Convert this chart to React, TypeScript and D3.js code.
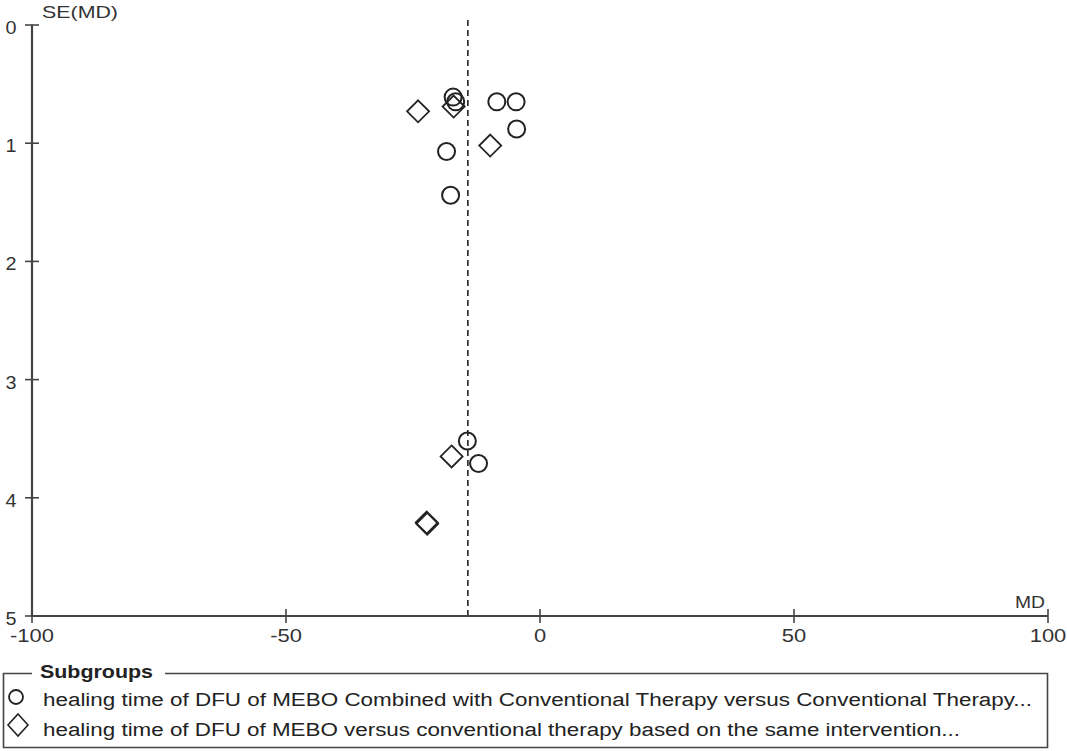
import React from "react";
import * as d3 from "d3";

const circleMD = [-17.1, -16.6, -8.5, -4.7, -4.6, -18.4, -17.6, -14.3, -12.1];
const circleSE = [0.61, 0.65, 0.65, 0.65, 0.88, 1.07, 1.44, 3.52, 3.71];
const diamondMD = [-24.0, -17.0, -9.8, -17.4, -22.3, -22.2];
const diamondSE = [0.73, 0.69, 1.02, 3.65, 4.21, 4.22];
const pooledMD = -14.2;
const xTicks = [-100, -50, 0, 50, 100];
const yTicks = [0, 1, 2, 3, 4, 5];
const yTitle = "SE(MD)";
const xTitle = "MD";
const legendTitle = "Subgroups";
const legendLabels = [
  "healing time of DFU of MEBO Combined with Conventional Therapy versus Conventional Therapy...",
  "healing time of DFU of MEBO versus conventional therapy based on the same intervention...",
];

const font = "Liberation Sans, Arial, sans-serif";

function SText(props: {
  x: number; y: number; sx?: number; size?: number; anchor?: string; bold?: boolean;
  fill?: string; len?: number; children: React.ReactNode;
}) {
  const { x, y, sx = 1.2, size = 18, anchor = "start", bold = false, fill = "#333", len, children } = props;
  if (len) {
    return (
      <text x={x} y={y} fontFamily={font} fontSize={size} fontWeight={bold ? "bold" : "normal"}
        fill={fill} textAnchor={anchor} textLength={len} lengthAdjust="spacingAndGlyphs">{children}</text>
    );
  }
  return (
    <text transform={`translate(${x},${y}) scale(${sx},1)`} fontFamily={font} fontSize={size}
      fontWeight={bold ? "bold" : "normal"} fill={fill} textAnchor={anchor}>{children}</text>
  );
}

export default function App() {
  const W = 1067, H = 751;
  const x = d3.scaleLinear().domain([-100, 100]).range([32, 1048]);
  const y = d3.scaleLinear().domain([0, 5]).range([25, 616]);
  const axisColor = "#444";
  const diamond = (cx: number, cy: number, rx: number, ry: number = rx) =>
    `M${cx},${cy - ry}L${cx + rx},${cy}L${cx},${cy + ry}L${cx - rx},${cy}Z`;
  return (
    <svg width={W} height={H} style={{ position: "absolute", left: 0, top: 0, background: "#fff" }}>
      <line x1={x(pooledMD)} x2={x(pooledMD)} y1={y(0) - 5} y2={y(5)} stroke="#222" strokeWidth={1.6} strokeDasharray="6,4" />
      <line x1={x(-100)} x2={x(-100)} y1={y(0)} y2={y(5)} stroke={axisColor} strokeWidth={2.2} />
      <line x1={x(-100)} x2={x(100)} y1={y(5)} y2={y(5)} stroke={axisColor} strokeWidth={2.2} />
      {yTicks.map((t) => (
        <g key={"y" + t}>
          <line x1={x(-100) - 7} x2={x(-100) + 7} y1={y(t)} y2={y(t)} stroke={axisColor} strokeWidth={1.6} />
          <SText x={x(-100) - 21} y={y(t) + 9} anchor="middle" sx={1.1}>{t}</SText>
        </g>
      ))}
      {xTicks.map((t) => (
        <g key={"x" + t}>
          <line x1={x(t)} x2={x(t)} y1={y(5) - 7} y2={y(5) + 7} stroke={axisColor} strokeWidth={1.6} />
          <SText x={x(t)} y={y(5) + 26} anchor="middle" sx={1.22}>{t}</SText>
        </g>
      ))}
      <SText x={42} y={18} size={17} len={76}>{yTitle}</SText>
      <SText x={1015} y={608} size={17} len={30}>{xTitle}</SText>
      {circleMD.map((m, i) => (
        <circle key={"c" + i} cx={x(m)} cy={y(circleSE[i])} r={8.5} fill="none" stroke="#222" strokeWidth={2} />
      ))}
      {diamondMD.map((m, i) => (
        <path key={"d" + i} d={diamond(x(m), y(diamondSE[i]), 11)} fill="none" stroke="#222" strokeWidth={1.8} />
      ))}
      <path d="M32,673.5 L3.5,673.5 L3.5,747.5 L1047.5,747.5 L1047.5,673.5 L165,673.5" fill="none" stroke="#444" strokeWidth={1.6} />
      <SText x={40} y={678} size={18} bold len={113} fill="#222">{legendTitle}</SText>
      <circle cx={16} cy={697} r={7} fill="none" stroke="#222" strokeWidth={1.8} />
      <path d={diamond(18, 725, 10, 11)} fill="none" stroke="#222" strokeWidth={1.6} />
      <SText x={43} y={706} size={18} len={989} fill="#222">{legendLabels[0]}</SText>
      <SText x={43} y={736} size={18} len={917} fill="#222">{legendLabels[1]}</SText>
    </svg>
  );
}
